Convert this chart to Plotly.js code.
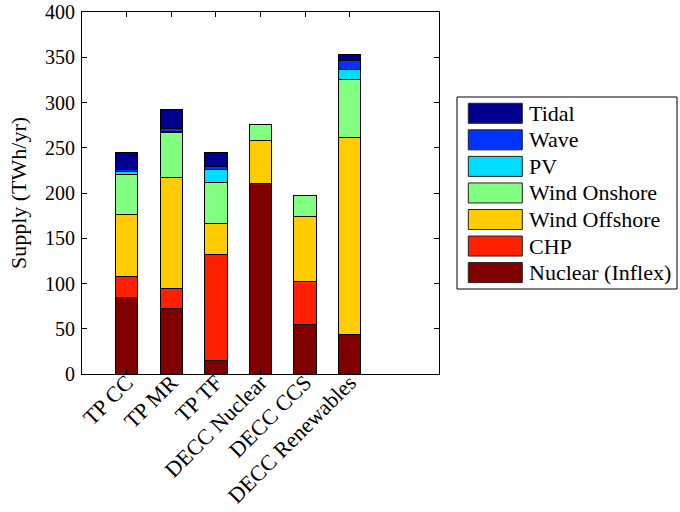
<!DOCTYPE html>
<html>
<head>
<meta charset="utf-8">
<script src="https://cdn.plot.ly/plotly-3.0.1.min.js"></script>
<style>html,body{margin:0;padding:0;background:#fff;}#chart{width:680px;height:512px;}</style>
</head>
<body>
<div id="chart"></div>
<script>
// Categories (scenarios)
const categories = ["TP CC", "TP MR", "TP TF", "DECC Nuclear", "DECC CCS", "DECC Renewables"];

// Series values (TWh/yr), stacked bottom to top
const nuclear      = [84, 72, 15, 210, 55, 44];
const chp          = [24, 23, 117, 0, 47.5, 0];
const windOffshore = [68, 122, 34, 48, 72, 217.5];
const windOnshore  = [45, 50, 46, 18, 22.5, 63.5];
const pv           = [3, 1, 14, 0, 0, 12];
const wave         = [2, 3, 3.5, 0, 0, 9];
const tidal        = [19, 21, 15.5, 0, 0, 7.5];

// Series names and colours (bottom to top)
const seriesNames  = ["Nuclear (Inflex)", "CHP", "Wind Offshore", "Wind Onshore", "PV", "Wave", "Tidal"];
const seriesValues = [nuclear, chp, windOffshore, windOnshore, pv, wave, tidal];
const seriesColors = ["#800000", "#ff2000", "#ffcc00", "#80ff80", "#00ddff", "#0033ff", "#00008f"];

const FONT = "Liberation Serif, Times New Roman, serif";

const traces = seriesNames.map((name, i) => ({
  type: "bar",
  name: name,
  x: categories,
  y: seriesValues[i],
  width: 0.5,
  marker: {color: seriesColors[i], line: {color: "#000", width: 1}},
  showlegend: false,
  hoverinfo: "name+y"
}));

// plot area in pixels
const L = 82, R = 439, T = 12, B = 374;
const W = 680, H = 512;
const px2x = px => (px - L) / (R - L);
const px2y = py => (B - py) / (B - T);

// Custom legend (MATLAB style), built from the series arrays, top to bottom
const shapes = [{
  type: "rect", xref: "paper", yref: "paper",
  x0: px2x(457), x1: px2x(677), y0: px2y(289), y1: px2y(97),
  line: {color: "#000", width: 1}, fillcolor: "rgba(0,0,0,0)"
}];
const annotations = [];
const n = seriesNames.length;
for (let k = 0; k < n; k++) {
  const i = n - 1 - k; // top entry is the last series
  const top = 103.3 + 26.55 * k;
  shapes.push({
    type: "rect", xref: "paper", yref: "paper",
    x0: px2x(468.3), x1: px2x(522.3), y0: px2y(top + 20), y1: px2y(top),
    line: {color: "#222", width: 1}, fillcolor: seriesColors[i]
  });
  annotations.push({
    xref: "paper", yref: "paper", x: px2x(527), y: px2y(top + 10),
    xanchor: "left", yanchor: "middle", showarrow: false,
    text: seriesNames[i], font: {family: FONT, size: 22, color: "#000"}
  });
}

const layout = {
  width: W, height: H,
  margin: {l: L, r: W - R, t: T, b: H - B, pad: 0},
  paper_bgcolor: "#fff", plot_bgcolor: "#fff",
  barmode: "stack",
  showlegend: false,
  font: {family: FONT, size: 20, color: "#000"},
  xaxis: {
    type: "category",
    range: [-1, 7],
    tickangle: -45,
    ticks: "inside", ticklen: 5, tickcolor: "#000",
    showline: true, linecolor: "#000", linewidth: 1, mirror: "allticks",
    showgrid: false, zeroline: false,
    tickfont: {family: FONT, size: 22, color: "#000"},
    ticklabelstandoff: -14,
    automargin: false
  },
  yaxis: {
    range: [0, 400],
    dtick: 50,
    ticks: "inside", ticklen: 5, tickcolor: "#000",
    showline: true, linecolor: "#000", linewidth: 1, mirror: "allticks",
    showgrid: false, zeroline: false,
    tickfont: {family: FONT, size: 20, color: "#000"},
    ticklabelstandoff: 2,
    title: {text: "Supply (TWh/yr)", font: {family: FONT, size: 22, color: "#000"}, standoff: 12},
    automargin: false
  },
  shapes: shapes,
  annotations: annotations
};

Plotly.newPlot("chart", traces, layout, {displayModeBar: false, staticPlot: true});
</script>
</body>
</html>
